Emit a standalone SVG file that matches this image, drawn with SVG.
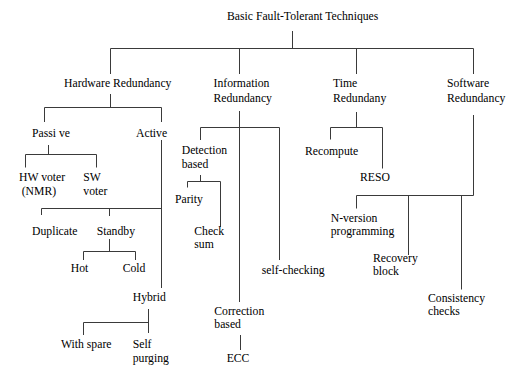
<svg xmlns="http://www.w3.org/2000/svg" width="508" height="365" viewBox="0 0 508 365">
  <style>
    text { font-family: "Liberation Serif", "Times New Roman", serif; font-size: 11.7px; fill: #000; }
    .wire { fill: none; stroke: #3a3a3a; stroke-width: 1; }
  </style>
  <rect width="508" height="365" fill="#fff"/>

  <!-- connectors -->
  <g id="connectors" class="wire">
    <!-- root fan-out -->
    <path d="M292.5 31V48.5M110.5 48.5H473.5M110.5 48.5V74M239.5 48.5V74M356.5 48.5V74M473.5 48.5V74"/>
    <!-- hardware redundancy -->
    <path d="M110.5 94V107.5M44.5 107.5H161.5M44.5 107.5V122M161.5 107.5V122"/>
    <!-- passive -->
    <path d="M48.5 145V154.5M25.5 154.5H96.5M25.5 154.5V167.5M96.5 154.5V167.5"/>
    <!-- active -->
    <path d="M161.5 140V288M41.5 208.5H161.5M41.5 208.5V215M109.5 208.5V216"/>
    <!-- standby -->
    <path d="M109.5 239V251.5M83.5 251.5H135.5M83.5 251.5V260M135.5 251.5V260"/>
    <!-- hybrid -->
    <path d="M148.5 309V333M83.5 322.5H148.5M83.5 322.5V335"/>
    <!-- information redundancy -->
    <path d="M239.5 111V302M200.5 127.5H279.5M200.5 127.5V140M279.5 127.5V260"/>
    <!-- detection based -->
    <path d="M200.5 175V181.5M187.5 181.5H220.5M187.5 181.5V187.5M220.5 181.5V227"/>
    <!-- correction based -->
    <path d="M240.5 335V350"/>
    <!-- time redundancy -->
    <path d="M356.5 112V127.5M330.5 127.5H382.5M330.5 127.5V139.5M382.5 127.5V168.5"/>
    <!-- software redundancy -->
    <path d="M473.5 115V195.5M356.5 195.5H473.5M356.5 195.5V208.5M408.5 195.5V255M461.5 195.5V289.5"/>
  </g>

  <g id="root"><text x="227" y="20">Basic Fault-Tolerant Techniques</text></g>

  <g id="hardware"><text x="64" y="87">Hardware Redundancy</text></g>
  <g id="information"><text x="213.5" y="87">Information</text><text x="213.5" y="101.5">Redundancy</text></g>
  <g id="time"><text x="333" y="87">Time</text><text x="333" y="101.5">Redundany</text></g>
  <g id="software"><text x="447" y="87">Software</text><text x="447" y="101.5">Redundancy</text></g>

  <g id="passive"><text x="32" y="137">Passi ve</text></g>
  <g id="active"><text x="136" y="137">Active</text></g>
  <g id="hw-voter"><text x="19" y="181">HW voter</text><text x="21.7" y="194.5">(NMR)</text></g>
  <g id="sw-voter"><text x="83.3" y="181">SW</text><text x="83.3" y="194.5">voter</text></g>
  <g id="duplicate"><text x="32" y="235">Duplicate</text></g>
  <g id="standby"><text x="96.7" y="235">Standby</text></g>
  <g id="hot"><text x="70.7" y="271.7">Hot</text></g>
  <g id="cold"><text x="122.7" y="271.7">Cold</text></g>
  <g id="hybrid"><text x="132.7" y="300.7">Hybrid</text></g>
  <g id="with-spare"><text x="61" y="348.3">With spare</text></g>
  <g id="self-purging"><text x="132.7" y="348.3">Self</text><text x="132.7" y="361.5">purging</text></g>

  <g id="detection"><text x="181.7" y="154.3">Detection</text><text x="181.7" y="167.7">based</text></g>
  <g id="parity"><text x="175" y="203.3">Parity</text></g>
  <g id="checksum"><text x="194.3" y="235">Check</text><text x="194.3" y="248">sum</text></g>
  <g id="self-checking"><text x="261.7" y="274">self-checking</text></g>
  <g id="correction"><text x="214.3" y="315">Correction</text><text x="214.3" y="328.3">based</text></g>
  <g id="ecc"><text x="226.7" y="361.5">ECC</text></g>

  <g id="recompute"><text x="305" y="155">Recompute</text></g>
  <g id="reso"><text x="360" y="181">RESO</text></g>

  <g id="n-version"><text x="330.7" y="221.7">N-version</text><text x="330.7" y="235">programming</text></g>
  <g id="recovery"><text x="373" y="261.7">Recovery</text><text x="373" y="275">block</text></g>
  <g id="consistency"><text x="428" y="301.7">Consistency</text><text x="428" y="315">checks</text></g>
</svg>
